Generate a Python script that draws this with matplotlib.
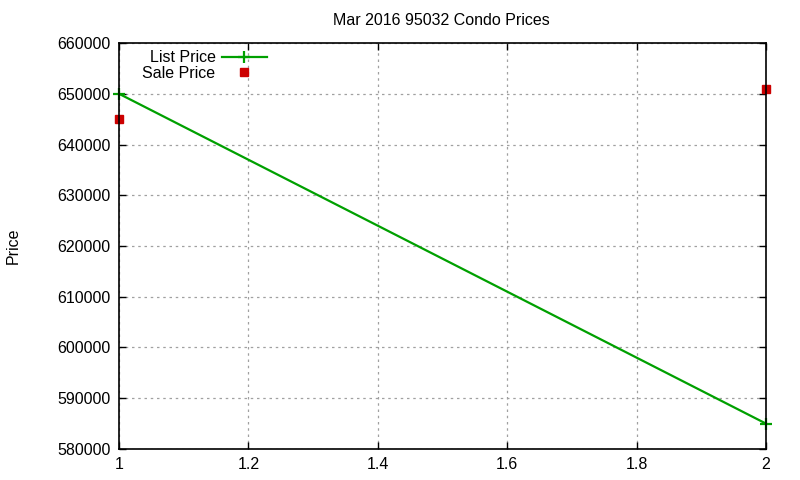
import matplotlib
matplotlib.use("Agg")
import matplotlib.pyplot as plt

x_vals = [1, 2]
list_price = [650000, 585000]
sale_price = [645000, 651000]
title = "Mar 2016 95032 Condo Prices"
y_ticks = [580000, 590000, 600000, 610000, 620000, 630000, 640000, 650000, 660000]
x_ticks = [1, 1.2, 1.4, 1.6, 1.8, 2]

plt.rcParams['font.family'] = ['Liberation Sans', 'DejaVu Sans']
fs = 11.5

fig = plt.figure(figsize=(8, 4.8), dpi=100)
ax = fig.add_axes([0.14875, 0.0646, 0.80875, 0.8458])

ax.plot(x_vals, list_price, color='#00a000', lw=1.6, marker='+', ms=9, mew=1.6,
        label='List Price', clip_on=False)
ax.plot(x_vals, sale_price, color='#cc0000', ls='none', marker='s', ms=6,
        label='Sale Price', clip_on=False)

ax.set_xlim(1, 2)
ax.set_ylim(580000, 660000)
ax.set_xticks(x_ticks)
ax.set_xticklabels(['1', '1.2', '1.4', '1.6', '1.8', '2'])
ax.set_yticks(y_ticks)
ax.set_yticklabels([str(v) for v in y_ticks])
ax.tick_params(direction='in', length=5, labelsize=fs, top=True, right=True,
               pad=6, width=1)
ax.grid(True, color='#a0a0a0', ls=(0, (2, 3)), lw=0.9)
for s in ax.spines.values():
    s.set_linewidth(1.2)

fig.text(13 / 800, 1 - 246 / 480, 'Price', rotation=90, ha='center', va='center',
         fontsize=fs)
fig.text(0.5513, 0.958, title, ha='center', va='center', fontsize=fs)

leg = ax.legend(loc='upper left', bbox_to_anchor=(0.019, 1.01), frameon=False,
                markerfirst=False, fontsize=fs, handlelength=2.8,
                handletextpad=0.4, labelspacing=0.05, borderpad=0.2)
for t in leg.get_texts():
    t.set_ha('right')

fig.savefig('out.png', dpi=100)
